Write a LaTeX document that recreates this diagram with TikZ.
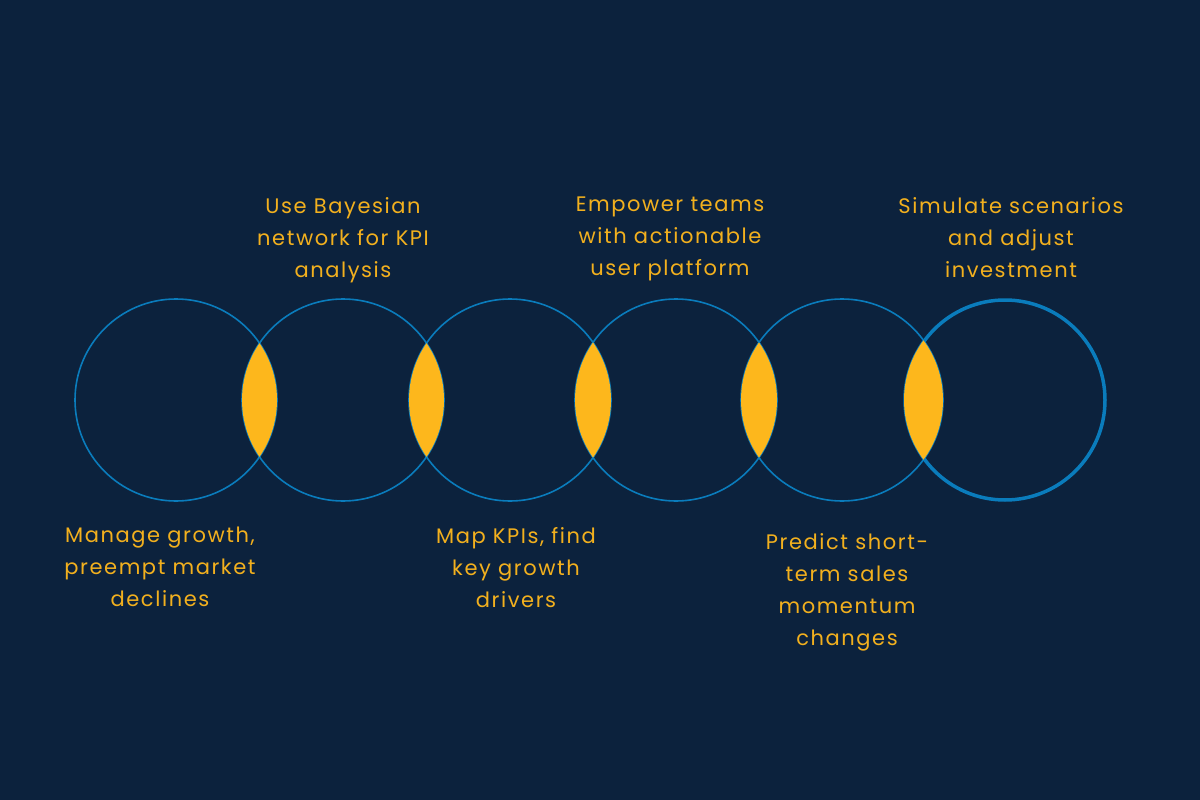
\documentclass[tikz,border=0pt]{standalone}
\usepackage{fontspec}
\setmainfont{Poppins}[LetterSpace=7.5]
\definecolor{bg}{HTML}{0C223D}
\definecolor{ring}{HTML}{0A7CBC}
\definecolor{lens}{HTML}{FDB71C}
\definecolor{txt}{HTML}{F2B01E}
\begin{document}
\begin{tikzpicture}[x=1pt,y=-1pt,
  ringc/.style={circle,draw=ring,line width=1.6pt,minimum size=202pt,inner sep=0pt},
  lbl/.style={text=txt,align=center,font=\fontsize{21}{32}\selectfont,inner sep=0pt}]
\fill[bg] (0,0) rectangle (1200,800);
\useasboundingbox (0,0) rectangle (1200,800);
\node[ringc] (c1) at (176,400) {};
\node[ringc] (c2) at (343,400) {};
\node[ringc] (c3) at (510,400) {};
\node[ringc] (c4) at (676,400) {};
\node[ringc] (c5) at (842,400) {};
\node[ringc,line width=3.5pt,minimum size=200pt] (c6) at (1005,400) {};
\foreach \a/\b in {c1/c2,c2/c3,c3/c4,c4/c5,c5/c6}{
  \begin{scope}
    \clip (\a.center) circle (101);
    \fill[lens] (\b.center) circle (101);
  \end{scope}
}
\node[lbl,anchor=north] (t2) at (343,197) {Use Bayesian\\network for KPI\\analysis};
\node[lbl,anchor=north] (t4) at (670,197) {Empower teams\\with actionable\\user platform};
\node[lbl,anchor=north] (t6) at (1011,197) {Simulate scenarios\\and adjust\\investment};
\node[lbl,anchor=north] (t1) at (160,527) {Manage growth,\\preempt market\\declines};
\node[lbl,anchor=north] (t3) at (516,527) {Map KPIs, find\\key growth\\drivers};
\node[lbl,anchor=north] (t5) at (847,533) {Predict short-\\term sales\\momentum\\changes};
\end{tikzpicture}
\end{document}
